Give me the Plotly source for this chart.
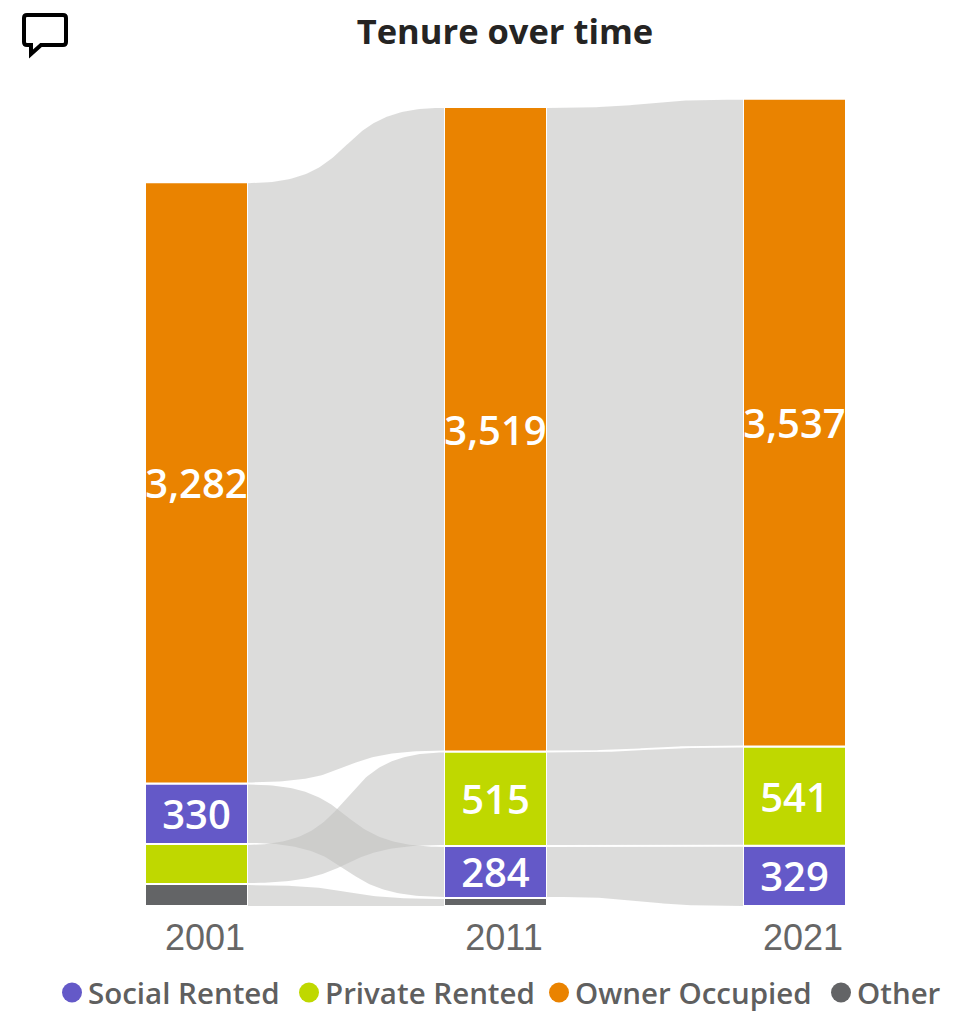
import numpy as np
import plotly.graph_objects as go

years = ["2001", "2011", "2021"]
series = ["Social Rented", "Private Rented", "Owner Occupied", "Other"]
social = [330, 284, 329]
private = [219, 515, 541]
owner = [3282, 3519, 3537]
other = [120, 44, 0]
shown_labels = {
    "Social Rented": ["330", "284", "329"],
    "Private Rented": ["", "515", "541"],
    "Owner Occupied": ["3,282", "3,519", "3,537"],
    "Other": ["", "", ""],
}
stack_order = [
    ["Other", "Private Rented", "Social Rented", "Owner Occupied"],
    ["Other", "Social Rented", "Private Rented", "Owner Occupied"],
    ["Other", "Social Rented", "Private Rented", "Owner Occupied"],
]
colors = {"Social Rented": "#6459c8", "Private Rented": "#bfd800",
          "Owner Occupied": "#ea8300", "Other": "#636466"}
values = {"Social Rented": social, "Private Rented": private,
          "Owner Occupied": owner, "Other": other}
legend_text_px = {"Social Rented": 88, "Private Rented": 325, "Owner Occupied": 575, "Other": 857}

W, H = 978, 1013
BASE_PX = 906
PX_PER_UNIT = 0.1832
STEP_PX = 299
X0_PX = 196.5
BAR_PX = 103
CURVE = 0.6
LEGEND_Y = 992.5
half = BAR_PX / 2 / STEP_PX
inset = 1 / PX_PER_UNIT


def px(x):
    return x / W


def py(y):
    return 1 - y / H


bounds = []
for i, order in enumerate(stack_order):
    level = 0
    b = {}
    for name in order:
        b[name] = (level, level + values[name][i])
        level += values[name][i]
    bounds.append(b)

fig = go.Figure()

t = np.linspace(0, 1, 80)


def bez(x0, x1, y0, y1):
    c0 = x0 + CURVE * (x1 - x0)
    c1 = x1 - CURVE * (x1 - x0)
    xs = (1 - t) ** 3 * x0 + 3 * (1 - t) ** 2 * t * c0 + 3 * (1 - t) * t ** 2 * c1 + t ** 3 * x1
    ys = (1 - t) ** 3 * y0 + 3 * (1 - t) ** 2 * t * y0 + 3 * (1 - t) * t ** 2 * y1 + t ** 3 * y1
    return xs, ys


for i in range(2):
    for name in series:
        if values[name][i] == 0 or values[name][i + 1] == 0:
            continue
        lo0, hi0 = bounds[i][name]
        lo1, hi1 = bounds[i + 1][name]
        lo0 += inset if lo0 > 0 else 0
        lo1 += inset if lo1 > 0 else 0
        hi0 -= inset
        hi1 -= inset
        x0, x1 = i + half, i + 1 - half
        xt, yt = bez(x0, x1, hi0, hi1)
        xb, yb = bez(x1, x0, lo1, lo0)
        fig.add_trace(go.Scatter(
            x=np.concatenate([xt, xb]), y=np.concatenate([yt, yb]),
            mode="lines", fill="toself", line=dict(width=0),
            fillcolor="rgba(194,193,192,0.57)", hoverinfo="skip", showlegend=False))

for name in series:
    fig.add_trace(go.Bar(
        x=[0, 1, 2], y=values[name],
        base=[bounds[i][name][0] for i in range(3)],
        width=BAR_PX / STEP_PX,
        marker=dict(color=colors[name], line=dict(color="white", width=2)),
        text=shown_labels[name], textposition="inside", insidetextanchor="middle",
        textangle=0, constraintext="none",
        insidetextfont=dict(family="Open Sans", size=40, color="white", weight=600),
        name=name, showlegend=False, hovertemplate=name + ": %{y}<extra></extra>"))

icon = (f"M {px(27)} {py(15)} L {px(63)} {py(15)} Q {px(66)} {py(15)} {px(66)} {py(18)} "
        f"L {px(66)} {py(42)} Q {px(66)} {py(45)} {px(63)} {py(45)} L {px(41)} {py(45)} "
        f"L {px(31)} {py(54)} L {px(31)} {py(45)} L {px(27)} {py(45)} "
        f"Q {px(24)} {py(45)} {px(24)} {py(42)} L {px(24)} {py(18)} "
        f"Q {px(24)} {py(15)} {px(27)} {py(15)} Z")

shapes = [dict(type="path", xref="paper", yref="paper", path=icon,
               line=dict(color="black", width=4), fillcolor="rgba(0,0,0,0)")]
annotations = []
for name in series:
    tx = legend_text_px[name]
    shapes.append(dict(type="circle", xref="paper", yref="paper",
                       x0=px(tx - 26), x1=px(tx - 6), y0=py(LEGEND_Y + 10), y1=py(LEGEND_Y - 10),
                       fillcolor=colors[name], line=dict(width=0)))
    annotations.append(dict(text=name, xref="paper", yref="paper", x=px(tx), y=py(LEGEND_Y),
                            xanchor="left", yanchor="middle", showarrow=False, xshift=-2,
                            font=dict(family="Open Sans", size=29.5, color="#5f5f5f", weight=600)))

fig.update_layout(
    width=W, height=H, margin=dict(l=0, r=0, t=0, b=0, autoexpand=False),
    paper_bgcolor="white", plot_bgcolor="white", barmode="overlay", showlegend=False,
    title=dict(text="<b>Tenure over time</b>", x=505 / W, xanchor="center",
               y=1 - 32 / H, yanchor="middle",
               font=dict(family="Open Sans", size=34.5, color="#252423")),
    xaxis=dict(range=[-X0_PX / STEP_PX, (W - X0_PX) / STEP_PX],
               tickvals=[i + 8.5 / STEP_PX for i in range(3)], ticktext=years,
               showgrid=False, zeroline=False, showline=False, ticks="",
               ticklabelstandoff=7,
               tickfont=dict(family="Liberation Sans", size=36, color="#666666"),
               fixedrange=True),
    yaxis=dict(domain=[1 - BASE_PX / H, 1], range=[0, BASE_PX / PX_PER_UNIT],
               visible=False, fixedrange=True),
    shapes=shapes, annotations=annotations,
)

fig.write_html("out.html", config={"displayModeBar": False},
               post_script="document.body.style.margin='0';")
